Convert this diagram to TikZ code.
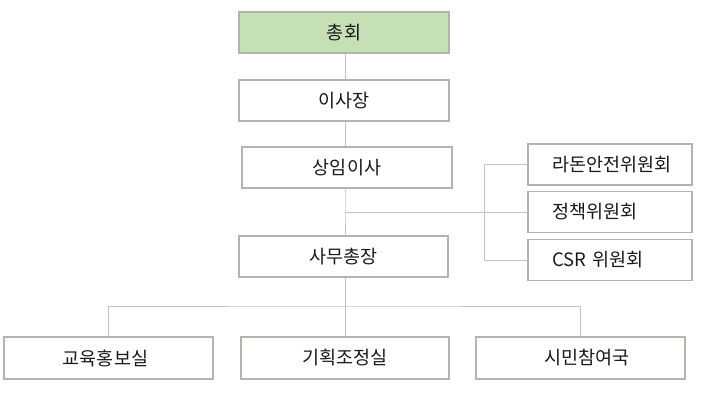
\documentclass[tikz,border=0pt]{standalone}
\usepackage{fontspec}
\setmainfont{Noto Sans CJK KR}
\definecolor{boxline}{HTML}{B4B4AC}
\definecolor{conn}{HTML}{C4C4BC}
\definecolor{greenfill}{HTML}{C5E0B4}
\definecolor{txt}{HTML}{1A1A1A}
\tikzset{
  orgbox/.style={draw=boxline, line width=1.1bp, fill=white, minimum height=41bp, inner sep=0pt, text=txt, font=\fontsize{18.5bp}{20bp}\selectfont},
  connline/.style={draw=conn, line width=1bp}
}
\begin{document}
\begin{tikzpicture}[x=1bp,y=-1bp]
\useasboundingbox (0,0) rectangle (720,405);
\fill[white] (0,0) rectangle (720,405);
\coordinate (sp) at (345,0);
\coordinate (br) at (484,0);
\node[orgbox, fill=greenfill, minimum width=210bp] (g) at (344,32.5) {총회};
\node[orgbox, minimum width=210bp] (ch) at (344,100.5) {이사장};
\node[orgbox, minimum width=210bp] (sm) at (347,167.5) {상임이사};
\node[orgbox, minimum width=209bp] (sg) at (343.5,256.5) {사무총장};
\node[orgbox, minimum width=164bp, text width=164bp, align=left] (c1) at (610,164.5) {\hspace*{24bp}라돈안전위원회};
\node[orgbox, minimum width=164bp, text width=164bp, align=left] (c2) at (610,212) {\hspace*{24bp}정책위원회};
\node[orgbox, minimum width=164bp, text width=164bp, align=left] (c3) at (610,260) {\hspace*{24bp}CSR 위원회};
\node[orgbox, minimum width=209bp, minimum height=42bp] (b1) at (108.5,358) {\hspace*{-6bp}교육홍보실};
\node[orgbox, minimum width=208bp, minimum height=42bp] (b2) at (345,358) {기획조정실};
\node[orgbox, minimum width=209bp, minimum height=42bp] (b3) at (580.5,358) {\hspace*{13bp}시민참여국};
\coordinate (j1) at (c2.west -| sp);
\coordinate (j2) at (345,306);
\draw[connline] (g.south -| sp) -- (ch.north -| sp);
\draw[connline] (ch.south -| sp) -- (sm.north -| sp);
\draw[connline] (sm.south -| sp) -- (j1) -- (sg.north -| sp);
\draw[connline] (j1) -- (c2.west);
\draw[connline] (c1.west) -- (c1.west -| br) -- (c3.west -| br) -- (c3.west);
\draw[connline] (sg.south -| sp) -- (j2);
\draw[connline] (b1.north) |- (j2) -| (b3.north);
\draw[connline] (j2) -- (b2.north -| sp);
\end{tikzpicture}
\end{document}
